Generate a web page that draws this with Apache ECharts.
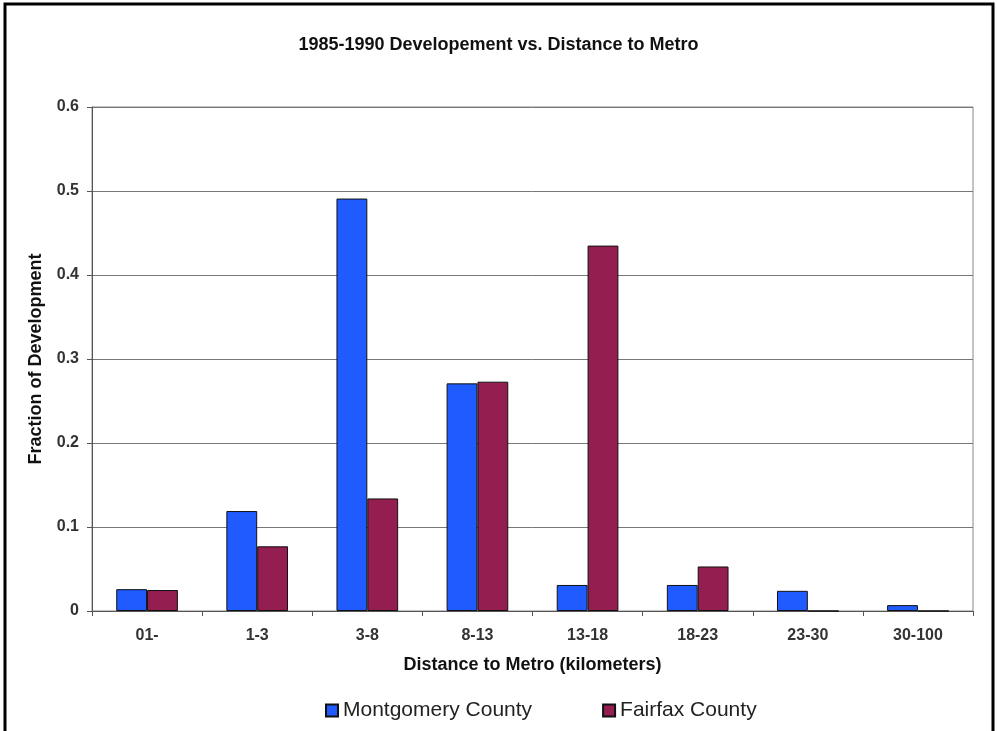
<!DOCTYPE html>
<html>
<head>
<meta charset="utf-8">
<script src="https://cdn.jsdelivr.net/npm/echarts@6/dist/echarts.min.js"></script>
<style>
  html, body { margin: 0; padding: 0; background: #fff; }
  #chart { width: 997px; height: 731px; }
</style>
</head>
<body>
<div id="chart"></div>
<script>
// Distance bands to the nearest Metro station
const categories = ['01-', '1-3', '3-8', '8-13', '13-18', '18-23', '23-30', '30-100'];
// Share of 1985-1990 development falling in each band
const montgomery = [0.026, 0.119, 0.491, 0.271, 0.031, 0.031, 0.024, 0.007];
const fairfax = [0.025, 0.077, 0.134, 0.273, 0.435, 0.053, 0, 0];
const yTicks = [0, 0.1, 0.2, 0.3, 0.4, 0.5, 0.6];

const chart = echarts.init(document.getElementById('chart'), null, { renderer: 'canvas' });
const font = 'Liberation Sans, Arial, sans-serif';

chart.setOption({
  backgroundColor: '#fff',
  animation: false,
  title: {
    text: '1985-1990 Developement vs. Distance to Metro',
    left: 'center',
    top: 31,
    textStyle: { fontFamily: font, fontSize: 18, fontWeight: 'bold', color: '#111' }
  },
  graphic: [{
    type: 'rect',
    shape: { x: 5, y: 4, width: 988, height: 740 },
    style: { fill: 'none', stroke: '#000', lineWidth: 3 },
    silent: true
  }],
  legend: {
    left: 320,
    top: 695,
    itemWidth: 12,
    itemHeight: 12,
    itemGap: 70,
    icon: 'rect',
    textStyle: { fontFamily: font, fontSize: 21, color: '#222' },
    data: ['Montgomery County', 'Fairfax County']
  },
  grid: { left: 92, right: 24, top: 107, bottom: 120, show: true, borderColor: '#888', borderWidth: 1 },
  xAxis: {
    type: 'category',
    data: categories,
    name: 'Distance to Metro (kilometers)',
    nameLocation: 'middle',
    nameGap: 45,
    nameTextStyle: { fontFamily: font, fontSize: 18, fontWeight: 'bold', color: '#111' },
    axisLine: { lineStyle: { color: '#555', width: 1 } },
    axisTick: { show: true, length: 5, lineStyle: { color: '#555' } },
    axisLabel: { fontFamily: font, fontSize: 16, fontWeight: 'bold', color: '#333', margin: 17 }
  },
  yAxis: {
    type: 'value',
    min: yTicks[0],
    max: yTicks[yTicks.length - 1],
    interval: 0.1,
    name: 'Fraction of Development',
    nameLocation: 'middle',
    nameGap: 47,
    nameTextStyle: { fontFamily: font, fontSize: 18, fontWeight: 'bold', color: '#111' },
    axisLine: { show: true, lineStyle: { color: '#555', width: 1 } },
    axisTick: { show: true, length: 5, lineStyle: { color: '#555' } },
    axisLabel: { fontFamily: font, fontSize: 16, fontWeight: 'bold', color: '#333', margin: 13,
      formatter: v => String(Math.round(v * 10) / 10) },
    splitLine: { show: true, lineStyle: { color: '#777', width: 1 } }
  },
  series: [
    {
      name: 'Montgomery County',
      type: 'bar',
      data: montgomery,
      barGap: '0%',
      barCategoryGap: '44%',
      itemStyle: { color: '#1F5BFF', borderColor: '#111', borderWidth: 1 }
    },
    {
      name: 'Fairfax County',
      type: 'bar',
      data: fairfax,
      barGap: '0%',
      barCategoryGap: '44%',
      itemStyle: { color: '#941E50', borderColor: '#111', borderWidth: 1 }
    }
  ]
});
</script>
</body>
</html>
